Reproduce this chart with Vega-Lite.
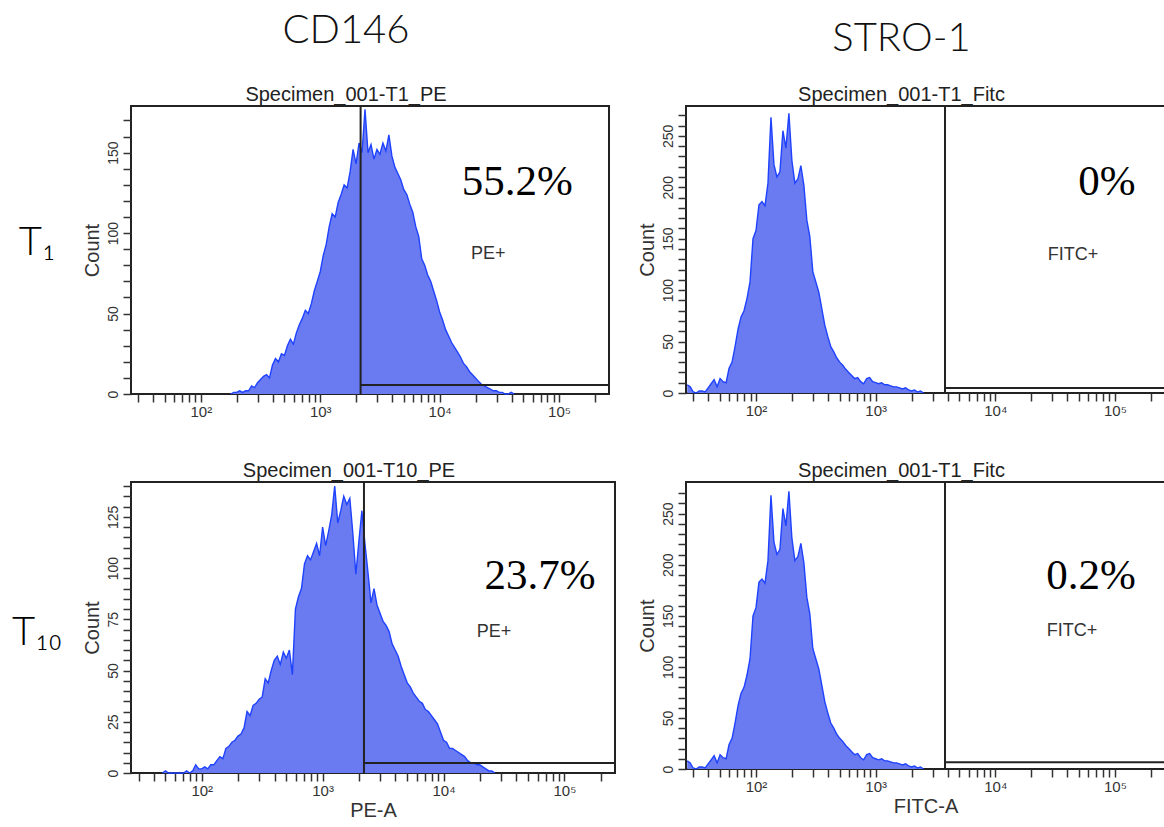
{
"$schema": "https://vega.github.io/schema/vega-lite/v6.json",
"background": "white",
"padding": {"left": 12, "top": 10, "right": 0, "bottom": 0},
"config": {
  "font": "Liberation Sans",
  "view": {"stroke": "#222", "strokeWidth": 2},
  "axis": {"domain": false, "grid": false, "tickColor": "#333", "tickWidth": 1.5, "tickSize": 8, "labelColor": "#333", "labelFont": "Liberation Sans", "labelFontSize": 14, "labelOverlap": false, "labelFlush": false, "titleFont": "Liberation Sans", "titleFontSize": 20, "titleFontWeight": "normal", "titleColor": "#333"},
  "axisX": {"labelFontSize": 15},
  "title": {"anchor": "middle", "frame": "bounds", "offset": 0, "font": "Liberation Sans", "fontSize": 20, "fontWeight": "normal", "color": "#222"}
},
"datasets": {
  "tl": [{"x":177.8,"c":0},{"x":188.4,"c":1},{"x":199.5,"c":1},{"x":211.3,"c":2},{"x":223.9,"c":1},{"x":237.1,"c":2},{"x":251.2,"c":2},{"x":266.1,"c":5},{"x":281.8,"c":4},{"x":298.5,"c":7},{"x":316.2,"c":9},{"x":335.0,"c":11},{"x":354.8,"c":12},{"x":375.8,"c":10},{"x":398.1,"c":18},{"x":421.7,"c":22},{"x":446.7,"c":20},{"x":473.2,"c":25},{"x":501.2,"c":24},{"x":530.9,"c":30},{"x":562.3,"c":34},{"x":595.7,"c":31},{"x":631.0,"c":38},{"x":668.3,"c":43},{"x":707.9,"c":47},{"x":749.9,"c":52},{"x":794.3,"c":50},{"x":841.4,"c":56},{"x":891.3,"c":64},{"x":944.1,"c":70},{"x":1000,"c":76},{"x":1059,"c":86},{"x":1122,"c":93},{"x":1189,"c":104},{"x":1259,"c":112},{"x":1334,"c":110},{"x":1413,"c":119},{"x":1496,"c":124},{"x":1585,"c":130},{"x":1679,"c":128},{"x":1778,"c":138},{"x":1884,"c":152},{"x":1995,"c":143},{"x":2113,"c":156},{"x":2239,"c":150},{"x":2371,"c":177},{"x":2512,"c":150},{"x":2661,"c":155},{"x":2818,"c":146},{"x":2985,"c":152},{"x":3162,"c":149},{"x":3350,"c":156},{"x":3548,"c":151},{"x":3758,"c":161},{"x":3981,"c":148},{"x":4217,"c":141},{"x":4467,"c":137},{"x":4732,"c":133},{"x":5012,"c":127},{"x":5309,"c":124},{"x":5623,"c":118},{"x":5957,"c":113},{"x":6310,"c":104},{"x":6683,"c":98},{"x":7079,"c":84},{"x":7499,"c":80},{"x":7943,"c":74},{"x":8414,"c":70},{"x":8913,"c":64},{"x":9441,"c":58},{"x":10000,"c":51},{"x":10590,"c":46},{"x":11220,"c":40},{"x":11890,"c":36},{"x":12590,"c":32},{"x":13340,"c":29},{"x":14130,"c":26},{"x":14960,"c":23},{"x":15850,"c":19},{"x":16790,"c":17},{"x":17780,"c":14},{"x":18840,"c":12},{"x":19950,"c":10},{"x":21130,"c":8},{"x":22390,"c":6},{"x":23710,"c":5},{"x":25120,"c":4},{"x":26610,"c":3},{"x":28180,"c":2},{"x":29850,"c":2},{"x":31620,"c":1},{"x":33500,"c":1},{"x":35480,"c":0},{"x":37580,"c":0},{"x":39810,"c":1},{"x":42170,"c":0}],
  "bl": [{"x":47.32,"c":0},{"x":50.12,"c":1},{"x":53.09,"c":0},{"x":56.23,"c":0},{"x":59.57,"c":0},{"x":63.10,"c":0},{"x":66.83,"c":0},{"x":70.79,"c":0},{"x":74.99,"c":1},{"x":79.43,"c":0},{"x":84.14,"c":1},{"x":89.13,"c":4},{"x":94.41,"c":2},{"x":100,"c":2},{"x":105.9,"c":3},{"x":112.2,"c":2},{"x":118.9,"c":4},{"x":125.9,"c":4},{"x":133.4,"c":6},{"x":141.3,"c":8},{"x":149.6,"c":7},{"x":158.5,"c":12},{"x":167.9,"c":13},{"x":177.8,"c":15},{"x":188.4,"c":16},{"x":199.5,"c":18},{"x":211.3,"c":19},{"x":223.9,"c":22},{"x":237.1,"c":30},{"x":251.2,"c":28},{"x":266.1,"c":33},{"x":281.8,"c":34},{"x":298.5,"c":36},{"x":316.2,"c":37},{"x":335.0,"c":46},{"x":354.8,"c":44},{"x":375.8,"c":50},{"x":398.1,"c":55},{"x":421.7,"c":57},{"x":446.7,"c":53},{"x":473.2,"c":59},{"x":501.2,"c":56},{"x":530.9,"c":60},{"x":562.3,"c":48},{"x":595.7,"c":80},{"x":631.0,"c":86},{"x":668.3,"c":90},{"x":707.9,"c":102},{"x":749.9,"c":106},{"x":794.3,"c":104},{"x":841.4,"c":108},{"x":891.3,"c":112},{"x":944.1,"c":106},{"x":1000,"c":120},{"x":1059,"c":111},{"x":1122,"c":118},{"x":1189,"c":126},{"x":1259,"c":140},{"x":1334,"c":122},{"x":1413,"c":128},{"x":1496,"c":135},{"x":1585,"c":131},{"x":1679,"c":134},{"x":1778,"c":117},{"x":1884,"c":97},{"x":1995,"c":113},{"x":2113,"c":128},{"x":2239,"c":112},{"x":2371,"c":98},{"x":2512,"c":83},{"x":2661,"c":90},{"x":2818,"c":82},{"x":2985,"c":78},{"x":3162,"c":74},{"x":3350,"c":72},{"x":3548,"c":69},{"x":3758,"c":63},{"x":3981,"c":60},{"x":4217,"c":57},{"x":4467,"c":52},{"x":4732,"c":48},{"x":5012,"c":44},{"x":5309,"c":42},{"x":5623,"c":39},{"x":5957,"c":37},{"x":6310,"c":35},{"x":6683,"c":34},{"x":7079,"c":31},{"x":7499,"c":30},{"x":7943,"c":28},{"x":8414,"c":26},{"x":8913,"c":24},{"x":9441,"c":20},{"x":10000,"c":16},{"x":10590,"c":15},{"x":11220,"c":12},{"x":11890,"c":12},{"x":12590,"c":11},{"x":13340,"c":10},{"x":14130,"c":9},{"x":14960,"c":8},{"x":15850,"c":6},{"x":16790,"c":5},{"x":17780,"c":5},{"x":18840,"c":4},{"x":19950,"c":4},{"x":21130,"c":3},{"x":22390,"c":2},{"x":23710,"c":1},{"x":25120,"c":1},{"x":26610,"c":0}],
  "fitc": [{"x":26.61,"c":8},{"x":28.18,"c":6},{"x":29.85,"c":1},{"x":31.62,"c":0},{"x":33.50,"c":2},{"x":35.48,"c":2},{"x":37.58,"c":1},{"x":39.81,"c":5},{"x":42.17,"c":9},{"x":44.67,"c":13},{"x":47.32,"c":6},{"x":50.12,"c":14},{"x":53.09,"c":11},{"x":56.23,"c":10},{"x":59.57,"c":24},{"x":63.10,"c":30},{"x":66.83,"c":45},{"x":70.79,"c":62},{"x":74.99,"c":74},{"x":79.43,"c":80},{"x":84.14,"c":92},{"x":89.13,"c":108},{"x":94.41,"c":150},{"x":100,"c":158},{"x":105.9,"c":183},{"x":112.2,"c":186},{"x":118.9,"c":182},{"x":125.9,"c":204},{"x":133.4,"c":268},{"x":141.3,"c":222},{"x":149.6,"c":210},{"x":158.5,"c":215},{"x":167.9,"c":255},{"x":177.8,"c":238},{"x":188.4,"c":272},{"x":199.5,"c":226},{"x":211.3,"c":204},{"x":223.9,"c":208},{"x":237.1,"c":221},{"x":251.2,"c":202},{"x":266.1,"c":168},{"x":281.8,"c":152},{"x":298.5,"c":118},{"x":316.2,"c":108},{"x":335.0,"c":98},{"x":354.8,"c":82},{"x":375.8,"c":66},{"x":398.1,"c":55},{"x":421.7,"c":45},{"x":446.7,"c":40},{"x":473.2,"c":34},{"x":501.2,"c":30},{"x":530.9,"c":27},{"x":562.3,"c":23},{"x":595.7,"c":20},{"x":631.0,"c":17},{"x":668.3,"c":14},{"x":707.9,"c":15},{"x":749.9,"c":11},{"x":794.3,"c":9},{"x":841.4,"c":14},{"x":891.3,"c":15},{"x":944.1,"c":11},{"x":1000,"c":10},{"x":1059,"c":9},{"x":1122,"c":10},{"x":1189,"c":8},{"x":1259,"c":8},{"x":1334,"c":7},{"x":1413,"c":6},{"x":1496,"c":6},{"x":1585,"c":5},{"x":1679,"c":4},{"x":1778,"c":5},{"x":1884,"c":3},{"x":1995,"c":2},{"x":2113,"c":3},{"x":2239,"c":1},{"x":2371,"c":2},{"x":2512,"c":0}]
},
"columns": 3,
"spacing": {"row": 88, "column": 71},
"bounds": "flush",
"align": "each",
"concat": [
  {
    "width": 46, "height": 274, "view": {"stroke": null},
    "data": {"values": [{"t": "T₁"}]},
    "mark": {"type": "text", "font": "Lato", "fontSize": 40, "fontWeight": 300, "align": "center", "baseline": "middle", "color": "#000"},
    "encoding": {"text": {"field": "t"}}
  },
  {
    "width": 478, "height": 288,
    "title": {"text": "CD146", "subtitle": "Specimen_001-T1_PE", "font": "Lato", "fontSize": 40, "fontWeight": 300, "color": "#111", "subtitleFont": "Liberation Sans", "subtitleFontSize": 20, "subtitleColor": "#222", "subtitlePadding": 34, "offset": 0},
    "encoding": {
      "x": {"field": "x", "type": "quantitative", "scale": {"type": "log", "domain": [26, 262144], "nice": false}, "axis": {"values": [30,40,50,60,70,80,90,100,200,300,400,500,600,700,800,900,1000,2000,3000,4000,5000,6000,7000,8000,9000,10000,20000,30000,40000,50000,60000,70000,80000,90000,100000,200000], "labelExpr": "datum.value == 100 ? '10²' : datum.value == 1000 ? '10³' : datum.value == 10000 ? '10⁴' : datum.value == 100000 ? '10⁵' : ''", "title": null, "labelPadding": 2}},
      "y": {"field": "c", "type": "quantitative", "scale": {"domain": [0, 179], "nice": false}, "axis": {"values": [0,10,20,30,40,50,60,70,80,90,100,110,120,130,140,150,160,170], "labelExpr": "datum.value % 50 == 0 ? datum.label : ''", "labelAngle": -90, "labelAlign": "center", "labelBaseline": "bottom", "labelPadding": 3, "title": "Count", "titlePadding": 4}}
    },
    "layer": [
      {"data": {"name": "tl"}, "mark": {"type": "area", "color": "#6a7bf1", "opacity": 1}, "encoding": {}},
      {"data": {"name": "tl"}, "mark": {"type": "line", "color": "#1f42ff", "strokeWidth": 1.4}, "encoding": {}},
      {"data": {"values": [{"x": 2178, "c": 0, "c2": 179}]}, "mark": {"type": "rule", "color": "#222", "strokeWidth": 2}, "encoding": {"y2": {"field": "c2"}}},
      {"data": {"values": [{"x": 2178, "x2": 262144, "c": 5.6}]}, "mark": {"type": "rule", "color": "#222", "strokeWidth": 2}, "encoding": {"x2": {"field": "x2"}}},
      {"data": {"values": [{"x": 44770, "c": 132, "t": "55.2%"}]}, "mark": {"type": "text", "font": "Liberation Serif", "fontSize": 43, "color": "#000"}, "encoding": {"text": {"field": "t"}}},
      {"data": {"values": [{"x": 25590, "c": 87, "t": "PE+"}]}, "mark": {"type": "text", "font": "Liberation Sans", "fontSize": 18, "color": "#333"}, "encoding": {"text": {"field": "t"}}}
    ]
  },
  {
    "width": 479, "height": 287,
    "title": {"text": "STRO-1", "subtitle": "Specimen_001-T1_Fitc", "font": "Lato", "fontSize": 40, "fontWeight": 300, "color": "#111", "subtitleFont": "Liberation Sans", "subtitleFontSize": 20, "subtitleColor": "#222", "subtitlePadding": 26, "offset": 0},
    "encoding": {
      "x": {"field": "x", "type": "quantitative", "scale": {"type": "log", "domain": [26, 262144], "nice": false}, "axis": {"values": [30,40,50,60,70,80,90,100,200,300,400,500,600,700,800,900,1000,2000,3000,4000,5000,6000,7000,8000,9000,10000,20000,30000,40000,50000,60000,70000,80000,90000,100000,200000], "labelExpr": "datum.value == 100 ? '10²' : datum.value == 1000 ? '10³' : datum.value == 10000 ? '10⁴' : datum.value == 100000 ? '10⁵' : ''", "title": null, "labelPadding": 2}},
      "y": {"field": "c", "type": "quantitative", "scale": {"domain": [0, 279], "nice": false}, "axis": {"values": [0,10,20,30,40,50,60,70,80,90,100,110,120,130,140,150,160,170,180,190,200,210,220,230,240,250,260,270], "labelExpr": "datum.value % 50 == 0 ? datum.label : ''", "labelAngle": -90, "labelAlign": "center", "labelBaseline": "bottom", "labelPadding": 3, "title": "Count", "titlePadding": 4}}
    },
    "layer": [
      {"data": {"name": "fitc"}, "mark": {"type": "area", "color": "#6a7bf1", "opacity": 1}, "encoding": {}},
      {"data": {"name": "fitc"}, "mark": {"type": "line", "color": "#1f42ff", "strokeWidth": 1.4}, "encoding": {}},
      {"data": {"values": [{"x": 3800, "c": 0, "c2": 279}]}, "mark": {"type": "rule", "color": "#222", "strokeWidth": 2}, "encoding": {"y2": {"field": "c2"}}},
      {"data": {"values": [{"x": 3800, "x2": 262144, "c": 4.9}]}, "mark": {"type": "rule", "color": "#222", "strokeWidth": 2}, "encoding": {"x2": {"field": "x2"}}},
      {"data": {"values": [{"x": 85900, "c": 205, "t": "0%"}]}, "mark": {"type": "text", "font": "Liberation Serif", "fontSize": 43, "color": "#000"}, "encoding": {"text": {"field": "t"}}},
      {"data": {"values": [{"x": 44570, "c": 134, "t": "FITC+"}]}, "mark": {"type": "text", "font": "Liberation Sans", "fontSize": 18, "color": "#333"}, "encoding": {"text": {"field": "t"}}}
    ]
  },
  {
    "width": 46, "height": 302, "view": {"stroke": null},
    "data": {"values": [{"t": "T₁₀"}]},
    "mark": {"type": "text", "font": "Lato", "fontSize": 40, "fontWeight": 300, "align": "center", "baseline": "middle", "color": "#000"},
    "encoding": {"text": {"field": "t"}}
  },
  {
    "width": 484, "height": 291,
    "title": {"text": "Specimen_001-T10_PE", "offset": 0},
    "encoding": {
      "x": {"field": "x", "type": "quantitative", "scale": {"type": "log", "domain": [26, 262144], "nice": false}, "axis": {"values": [30,40,50,60,70,80,90,100,200,300,400,500,600,700,800,900,1000,2000,3000,4000,5000,6000,7000,8000,9000,10000,20000,30000,40000,50000,60000,70000,80000,90000,100000,200000], "labelExpr": "datum.value == 100 ? '10²' : datum.value == 1000 ? '10³' : datum.value == 10000 ? '10⁴' : datum.value == 100000 ? '10⁵' : ''", "title": "PE-A", "titlePadding": 2, "labelPadding": 2}},
      "y": {"field": "c", "type": "quantitative", "scale": {"domain": [0, 142], "nice": false}, "axis": {"values": [0,5,10,15,20,25,30,35,40,45,50,55,60,65,70,75,80,85,90,95,100,105,110,115,120,125,130,135,140], "labelExpr": "datum.value % 25 == 0 ? datum.label : ''", "labelAngle": -90, "labelAlign": "center", "labelBaseline": "bottom", "labelPadding": 3, "title": "Count", "titlePadding": 4}}
    },
    "layer": [
      {"data": {"name": "bl"}, "mark": {"type": "area", "color": "#6a7bf1", "opacity": 1}, "encoding": {}},
      {"data": {"name": "bl"}, "mark": {"type": "line", "color": "#1f42ff", "strokeWidth": 1.4}, "encoding": {}},
      {"data": {"values": [{"x": 2198, "c": 0, "c2": 142}]}, "mark": {"type": "rule", "color": "#222", "strokeWidth": 2}, "encoding": {"y2": {"field": "c2"}}},
      {"data": {"values": [{"x": 2198, "x2": 262144, "c": 4.9}]}, "mark": {"type": "rule", "color": "#222", "strokeWidth": 2}, "encoding": {"x2": {"field": "x2"}}},
      {"data": {"values": [{"x": 62810, "c": 96, "t": "23.7%"}]}, "mark": {"type": "text", "font": "Liberation Serif", "fontSize": 43, "color": "#000"}, "encoding": {"text": {"field": "t"}}},
      {"data": {"values": [{"x": 26120, "c": 69, "t": "PE+"}]}, "mark": {"type": "text", "font": "Liberation Sans", "fontSize": 18, "color": "#333"}, "encoding": {"text": {"field": "t"}}}
    ]
  },
  {
    "width": 479, "height": 287,
    "title": {"text": "Specimen_001-T1_Fitc", "offset": 0},
    "encoding": {
      "x": {"field": "x", "type": "quantitative", "scale": {"type": "log", "domain": [26, 262144], "nice": false}, "axis": {"values": [30,40,50,60,70,80,90,100,200,300,400,500,600,700,800,900,1000,2000,3000,4000,5000,6000,7000,8000,9000,10000,20000,30000,40000,50000,60000,70000,80000,90000,100000,200000], "labelExpr": "datum.value == 100 ? '10²' : datum.value == 1000 ? '10³' : datum.value == 10000 ? '10⁴' : datum.value == 100000 ? '10⁵' : ''", "title": "FITC-A", "titlePadding": 2, "labelPadding": 2}},
      "y": {"field": "c", "type": "quantitative", "scale": {"domain": [0, 281], "nice": false}, "axis": {"values": [0,10,20,30,40,50,60,70,80,90,100,110,120,130,140,150,160,170,180,190,200,210,220,230,240,250,260,270], "labelExpr": "datum.value % 50 == 0 ? datum.label : ''", "labelAngle": -90, "labelAlign": "center", "labelBaseline": "bottom", "labelPadding": 3, "title": "Count", "titlePadding": 4}}
    },
    "layer": [
      {"data": {"name": "fitc"}, "mark": {"type": "area", "color": "#6a7bf1", "opacity": 1}, "encoding": {}},
      {"data": {"name": "fitc"}, "mark": {"type": "line", "color": "#1f42ff", "strokeWidth": 1.4}, "encoding": {}},
      {"data": {"values": [{"x": 3800, "c": 0, "c2": 281}]}, "mark": {"type": "rule", "color": "#222", "strokeWidth": 2}, "encoding": {"y2": {"field": "c2"}}},
      {"data": {"values": [{"x": 3800, "x2": 262144, "c": 6.5}]}, "mark": {"type": "rule", "color": "#222", "strokeWidth": 2}, "encoding": {"x2": {"field": "x2"}}},
      {"data": {"values": [{"x": 63100, "c": 189, "t": "0.2%"}]}, "mark": {"type": "text", "font": "Liberation Serif", "fontSize": 43, "color": "#000"}, "encoding": {"text": {"field": "t"}}},
      {"data": {"values": [{"x": 43750, "c": 135, "t": "FITC+"}]}, "mark": {"type": "text", "font": "Liberation Sans", "fontSize": 18, "color": "#333"}, "encoding": {"text": {"field": "t"}}}
    ]
  }
]
}
